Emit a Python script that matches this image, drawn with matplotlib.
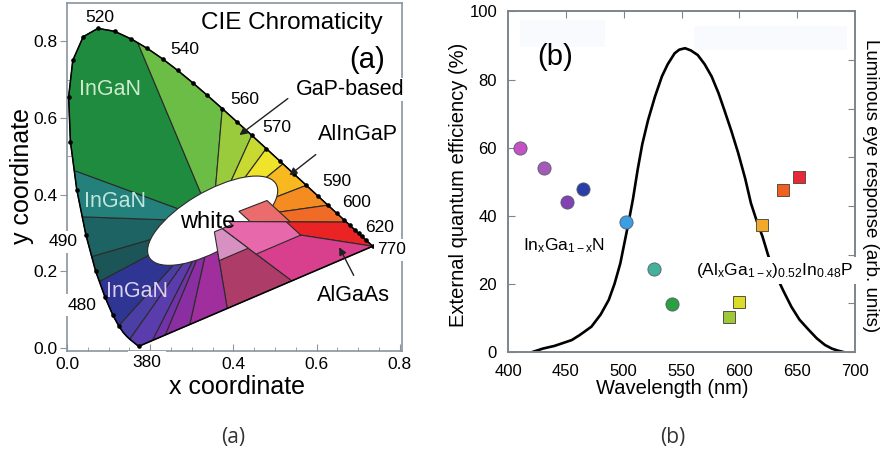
import numpy as np
import matplotlib.pyplot as plt
from matplotlib.patches import Ellipse, Rectangle

plt.rcParams['font.family'] = ['Liberation Sans', 'DejaVu Sans']
plt.rcParams['mathtext.fontset'] = 'custom'
plt.rcParams['mathtext.rm'] = 'Liberation Sans'
plt.rcParams['mathtext.it'] = 'Liberation Sans:italic'

# ---- CIE 1931 spectral locus ----
locus_nm = [380, 400, 420, 430, 440, 450, 455, 460, 465, 470, 475, 480, 485, 490,
            495, 500, 505, 510, 515, 520, 525, 530, 535, 540, 545, 550, 555, 560,
            565, 570, 575, 580, 585, 590, 595, 600, 605, 610, 615, 620, 625, 630,
            640, 650, 660, 680, 700]
locus_x = [0.1741, 0.1733, 0.1714, 0.1689, 0.1644, 0.1566, 0.1510, 0.1440, 0.1355,
           0.1241, 0.1096, 0.0913, 0.0687, 0.0454, 0.0235, 0.0082, 0.0039, 0.0139,
           0.0389, 0.0743, 0.1142, 0.1547, 0.1929, 0.2296, 0.2658, 0.3016, 0.3373,
           0.3731, 0.4087, 0.4441, 0.4788, 0.5125, 0.5448, 0.5752, 0.6029, 0.6270,
           0.6482, 0.6658, 0.6801, 0.6915, 0.7006, 0.7079, 0.7190, 0.7260, 0.7300,
           0.7334, 0.7347]
locus_y = [0.0050, 0.0048, 0.0051, 0.0069, 0.0109, 0.0177, 0.0227, 0.0297, 0.0399,
           0.0578, 0.0868, 0.1327, 0.2007, 0.2950, 0.4127, 0.5384, 0.6548, 0.7502,
           0.8120, 0.8338, 0.8262, 0.8059, 0.7816, 0.7543, 0.7243, 0.6923, 0.6589,
           0.6245, 0.5896, 0.5547, 0.5202, 0.4866, 0.4544, 0.4242, 0.3965, 0.3725,
           0.3514, 0.3340, 0.3197, 0.3083, 0.2993, 0.2920, 0.2809, 0.2740, 0.2700,
           0.2666, 0.2653]

# colour regions: boundaries along the locus (nm) then along the purple line (x)
hue_cuts = [455, 470, 483, 487, 492, 497, 532, 560, 570, 575, 581, 590, 600, 612, 700,
            0.54, 0.385, 0.295, 0.236, 0.205]
hue_colors = ['#4b3fa6', '#2f3592', '#1b5558', '#1d6363', '#24807a', '#1e8b3e',
              '#6cbd46', '#9acb3c', '#c8da32', '#f0e42a', '#f8b820', '#f48c22',
              '#f06c26', '#ea2424', '#d8408e', '#ad3d68', '#a02e9c', '#8a2ea2',
              '#7232a8', '#5a3cac']
white_pt = (0.35, 0.33)

# pastel patches around the white area
inner_start = [590, 612, 0.54]
inner_end = [612, 0.54, 0.385]
inner_frac = [(0.28, 0.58), (0.12, 0.55), (0.12, 0.45)]
inner_colors = ['#ea6c6c', '#e868ac', '#d690c2']

locus_labels = ['520', '540', '560', '570', '590', '600', '620', '770', '490', '480']
label_xy = [(0.079, 0.862), (0.284, 0.778), (0.428, 0.648), (0.505, 0.574),
            (0.649, 0.433), (0.697, 0.379), (0.752, 0.313), (0.781, 0.256),
            (-0.010, 0.277), (0.036, 0.112)]

# ---- LED efficiency data ----
ingan_nm = [410, 431, 451, 465, 502, 526, 542]
ingan_eqe = [60, 54, 44, 48, 38.3, 24.3, 14]
ingan_colors = ['#c452c4', '#a55ab8', '#8242b2', '#2a3ea8', '#3a9ee0', '#44b29a', '#2aa040']
algainp_nm = [591, 600, 620, 638, 651.5]
algainp_eqe = [10.3, 14.7, 37.4, 47.7, 51.3]
algainp_colors = ['#9cc83a', '#dcdc28', '#f2a828', '#f06020', '#e82838']

eye_nm = [421, 430, 440, 455, 462, 472, 480, 487, 492, 497, 504, 508, 512, 516, 521,
          527, 533, 538, 544, 548, 553, 558, 564, 570, 576, 582, 587, 593, 599, 605,
          610, 615, 620, 625, 631, 638, 645, 652, 660, 667, 674, 680, 685, 690]
eye_resp = [0.0, 0.014, 0.025, 0.049, 0.070, 0.104, 0.154, 0.214, 0.280, 0.364,
            0.529, 0.630, 0.749, 0.854, 0.953, 1.050, 1.133, 1.183, 1.228, 1.243,
            1.249, 1.240, 1.221, 1.183, 1.133, 1.064, 0.995, 0.910, 0.818, 0.714,
            0.612, 0.539, 0.475, 0.396, 0.323, 0.252, 0.186, 0.133, 0.091, 0.056,
            0.029, 0.014, 0.006, 0.0]

fig = plt.figure(figsize=(8.81, 4.57), dpi=100)

# ================= (a) chromaticity diagram =================
ax = fig.add_axes([0.07605, 0.23195, 0.38025, 0.76149])
ax.set_xlim(0, 0.805)
ax.set_ylim(-0.008, 0.9)

lx, ly = np.array(locus_x), np.array(locus_y)
n = len(locus_nm)
n_purple = 30
t = np.linspace(0, 1, n_purple + 1)[1:]
edge_x = np.r_[lx, lx[-1] + (lx[0] - lx[-1]) * t]
edge_y = np.r_[ly, ly[-1] + (ly[0] - ly[-1]) * t]
L = len(edge_x) - 1
idx = np.arange(L + 1)


def edge_s(v):
    if v > 1:
        return np.interp(v, locus_nm, np.arange(n))
    return (n - 1) + (lx[-1] - v) / (lx[-1] - lx[0]) * n_purple


def arc(sa, sb):
    if sb <= sa:
        sb += L
    s = np.r_[sa, np.arange(np.floor(sa) + 1, np.ceil(sb)), sb]
    s = np.mod(s, L)
    return np.interp(s, idx, edge_x), np.interp(s, idx, edge_y)


def ring(va, vb, f0, f1):
    ex, ey = arc(edge_s(va), edge_s(vb))
    wx, wy = white_pt
    ox, oy = wx + f1 * (ex - wx), wy + f1 * (ey - wy)
    ix, iy = wx + f0 * (ex - wx), wy + f0 * (ey - wy)
    return np.r_[ox, ix[::-1]], np.r_[oy, iy[::-1]]


for i, c in enumerate(hue_colors):
    px, py = ring(hue_cuts[i], hue_cuts[(i + 1) % len(hue_cuts)], 0, 1)
    ax.fill(px, py, facecolor=c, edgecolor='#2b2b2b', linewidth=0.8, zorder=2)

ax.add_patch(Ellipse((0.35, 0.332), 0.36, 0.15, angle=33, facecolor='white',
                     edgecolor='#2b2b2b', linewidth=0.8, zorder=3))

for a, b, (f0, f1), c in zip(inner_start, inner_end, inner_frac, inner_colors):
    px, py = ring(a, b, f0, f1)
    ax.fill(px, py, facecolor=c, edgecolor='#2b2b2b', linewidth=0.8, zorder=4)

ax.plot(edge_x, edge_y, color='black', lw=1.1, zorder=5)
dots = [v for v in locus_nm if 470 <= v <= 640] + [380, 700]
ax.plot(np.interp(dots, locus_nm, lx), np.interp(dots, locus_nm, ly), 'o',
        color='black', ms=2.3, zorder=6)

for s, (x, y) in zip(locus_labels, label_xy):
    ax.text(x, y, s, fontsize=12.5, ha='center', va='center', zorder=7,
            bbox=dict(facecolor='white', edgecolor='none', pad=2.5) if s in ('490', '480', '770') else None)
ax.text(0.192, -0.039, '380', fontsize=12.5, ha='center', va='center', zorder=7,
        bbox=dict(facecolor='white', edgecolor='none', pad=3.5))

ax.text(0.541, 0.849, 'CIE Chromaticity', fontsize=17.5, ha='center', va='center')
ax.text(0.721, 0.752, '(a)', fontsize=21, ha='center', va='center')
ax.text(0.103, 0.674, 'InGaN', fontsize=15.5, color='#cdeacb', ha='center', va='center', zorder=7)
ax.text(0.115, 0.381, 'InGaN', fontsize=15.5, color='#bfe6de', ha='center', va='center', zorder=7)
ax.text(0.168, 0.146, 'InGaN', fontsize=15.5, color='#ddd0f2', ha='center', va='center', zorder=7)
ax.text(0.337, 0.329, 'white', fontsize=17, ha='center', va='center', zorder=7)

arrow = dict(arrowstyle='-|>', color='#202020', lw=1.0, mutation_scale=11)
ax.annotate('', xy=(0.409, 0.551), xytext=(0.536, 0.655), arrowprops=arrow, zorder=8)
ax.annotate('', xy=(0.529, 0.446), xytext=(0.603, 0.509), arrowprops=arrow, zorder=8)
ax.annotate('', xy=(0.651, 0.269), xytext=(0.692, 0.183), arrowprops=arrow, zorder=8)
ax.text(0.680, 0.674, 'GaP-based', fontsize=15.5, ha='center', va='center', zorder=8,
        bbox=dict(facecolor='white', edgecolor='none', pad=0.5))
ax.text(0.700, 0.556, 'AlInGaP', fontsize=15.5, ha='center', va='center', zorder=8)
ax.text(0.688, 0.138, 'AlGaAs', fontsize=15.5, ha='center', va='center', zorder=8)

spine_c = '#8a949e'
for sp in ax.spines.values():
    sp.set_color(spine_c)
    sp.set_linewidth(1.2)
ax.set_xticks([0, 0.2, 0.4, 0.6, 0.8])
ax.set_xticklabels(['0.0', '', '0.4', '0.6', '0.8'])
ax.set_xticks(np.arange(0, 0.81, 0.05), minor=True)
ax.set_yticks([0, 0.2, 0.4, 0.6, 0.8])
ax.set_yticklabels(['0.0', '0.2', '0.4', '0.6', '0.8'])
ax.set_yticks(np.arange(0, 0.85, 0.1), minor=True)
ax.tick_params(axis='x', which='both', direction='in', color=spine_c, labelsize=12.5, pad=4)
ax.tick_params(axis='x', which='major', length=5)
ax.tick_params(axis='x', which='minor', length=3)
ax.tick_params(axis='y', which='major', direction='out', length=5, color=spine_c, labelsize=12.5, pad=2)
ax.tick_params(axis='y', which='minor', direction='in', length=3, color=spine_c)

fig.text(22 / 881, 1 - 176 / 457, 'y coordinate', fontsize=18, rotation=90, ha='center', va='center')
fig.text(237 / 881, 1 - 387 / 457, 'x coordinate', fontsize=18, ha='center', va='center')

# ================= (b) external quantum efficiency =================
bx = fig.add_axes([0.5768, 0.22976, 0.39364, 0.74508])
bx.set_xlim(400, 700)
bx.set_ylim(0, 100)
rx = bx.twinx()
rx.set_ylim(0, 1.4)
bx.set_zorder(rx.get_zorder() + 1)
bx.patch.set_visible(False)

rx.add_patch(Rectangle((410, 1.254), 74, 0.11, facecolor='#f8fafd', edgecolor='none', zorder=0))
rx.add_patch(Rectangle((561, 1.242), 132, 0.10, facecolor='#f8fafd', edgecolor='none', zorder=0))
rx.plot(eye_nm, eye_resp, color='black', lw=1.9, solid_joinstyle='round', zorder=2)

for x, y, c in zip(ingan_nm, ingan_eqe, ingan_colors):
    bx.plot(x, y, 'o', ms=9.5, mfc=c, mec='#5a5a70', mew=0.6, zorder=3)
for x, y, c in zip(algainp_nm, algainp_eqe, algainp_colors):
    bx.plot(x, y, 's', ms=9, mfc=c, mec='#5a5040', mew=0.7, zorder=3)

bx.text(440.5, 86.6, '(b)', fontsize=21, ha='center', va='center')
bx.text(448, 30.0, r'In$_\mathregular{x}$Ga$_\mathregular{1-x}$N', fontsize=12.5,
        ha='center', va='baseline', zorder=4)
bx.text(630.7, 22.6,
        r'(Al$_\mathregular{x}$Ga$_\mathregular{1-x}$)$_\mathregular{0.52}$In$_\mathregular{0.48}$P',
        fontsize=12.5, ha='center', va='baseline', zorder=4,
        bbox=dict(facecolor='white', edgecolor='none', pad=3))

spine_b = '#7c848c'
for a_ in (bx, rx):
    for sp in a_.spines.values():
        sp.set_color(spine_b)
        sp.set_linewidth(1.2)
bx.set_xticks([400, 450, 500, 550, 600, 650, 700])
bx.set_yticks([0, 20, 40, 60, 80, 100])
bx.tick_params(axis='x', direction='in', length=0, labelsize=12, pad=9)
bx.tick_params(axis='y', direction='in', length=5, color=spine_b, labelsize=12, pad=8)
top = bx.secondary_xaxis('top')
top.set_xticks([450, 500, 550, 600, 650])
top.tick_params(direction='in', length=5, color=spine_b, labeltop=False)
top.spines['top'].set_visible(False)
rx.set_yticks(np.arange(0, 1.41, 0.2))
rx.tick_params(axis='y', direction='in', length=5, color=spine_b, labelright=False)

fig.text(459 / 881, 1 - 185 / 457, 'External quantum efficiency (%)', fontsize=14.5,
         rotation=90, ha='center', va='center')
fig.text(870 / 881, 1 - 186 / 457, 'Luminous eye response (arb. units)', fontsize=13.5,
         rotation=270, ha='center', va='center')
fig.text(672 / 881, 1 - 388 / 457, 'Wavelength (nm)', fontsize=14.5, ha='center', va='center')

# panel captions
fig.text(233 / 881, 1 - 438 / 457, '(a)', family='Open Sans', fontsize=15, color='#333333',
         ha='center', va='center')
fig.text(673 / 881, 1 - 438 / 457, '(b)', family='Open Sans', fontsize=15, color='#333333',
         ha='center', va='center')

fig.savefig('out.png', dpi=100)
